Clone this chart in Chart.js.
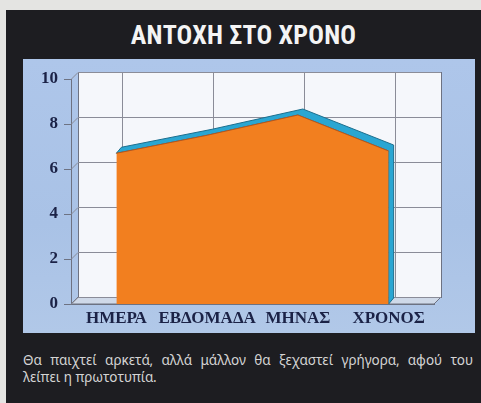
<!DOCTYPE html>
<html>
<head>
<meta charset="utf-8">
<script src="https://cdn.jsdelivr.net/npm/chart.js@4"></script>
<style>
  html, body { margin: 0; padding: 0; }
  body { width: 481px; height: 403px; background: #e4e4e2; position: relative; overflow: hidden; }
  #box { position: absolute; left: 6px; top: 10px; width: 475px; height: 393px; background: #1d1d21; }
  #title {
    position: absolute; left: 0; top: 20px; width: 487px; text-align: center;
    font-family: "Liberation Sans Narrow", "Roboto Condensed", "Arial Narrow", sans-serif;
    font-weight: bold; font-size: 26px; color: #f4f4f4; letter-spacing: 0.2px;
  }
  #panel {
    position: absolute; left: 23px; top: 59px; width: 452px; height: 274px;
    background: linear-gradient(180deg, #aec6ea 0%, #a9c2e6 60%, #b1c8e8 100%);
  }
  #panel canvas { position: absolute; left: 0; top: 0; }
  #caption {
    position: absolute; left: 23px; top: 352px; width: 450px;
    font-family: "Noto Sans", "DejaVu Sans", sans-serif; font-size: 13.5px;
    line-height: 17px; color: #d4d4d4;
  }
  #caption .l1 { text-align: justify; text-align-last: justify; }
</style>
</head>
<body>
<div id="box"></div>
<div id="title">ΑΝΤΟΧΗ ΣΤΟ ΧΡΟΝΟ</div>
<div id="panel"><canvas id="chart" width="452" height="274"></canvas></div>
<div id="caption">
  <div class="l1">Θα παιχτεί αρκετά, αλλά μάλλον θα ξεχαστεί γρήγορα, αφού του</div>
  <div>λείπει η πρωτοτυπία.</div>
</div>
<script>
// data
const categories = ['ΗΜΕΡΑ', 'ΕΒΔΟΜΑΔΑ', 'ΜΗΝΑΣ', 'ΧΡΟΝΟΣ']
const durability = [6.7, 7.5, 8.4, 6.8]
const yTicks = [0, 2, 4, 6, 8, 10]

const DEPTH = 7 // back wall offset
const SIDE = { dx: 5, dy: -6 } // thickness of the blue 3d edge
const lineCol = '#6d7282'
const textCol = '#1b2246'

// draws the back wall, floor and the blue side of the area
const wallPlugin = {
  id: 'wall',
  beforeDatasetsDraw(chart) {
    const ctx = chart.ctx
    const { left, right, top, bottom } = chart.chartArea
    const x = chart.scales.x
    const y = chart.scales.y
    ctx.save()
    // floor
    ctx.fillStyle = '#cfd9e8'
    ctx.strokeStyle = lineCol
    ctx.lineWidth = 1
    ctx.beginPath()
    ctx.moveTo(left, bottom)
    ctx.lineTo(right, bottom)
    ctx.lineTo(right + DEPTH, bottom - DEPTH)
    ctx.lineTo(left + DEPTH, bottom - DEPTH)
    ctx.closePath()
    ctx.fill()
    ctx.stroke()
    // wall
    ctx.fillStyle = '#f5f7fb'
    ctx.fillRect(left + DEPTH, top - DEPTH, right - left, bottom - top)
    ctx.strokeRect(left + DEPTH + 0.5, top - DEPTH + 0.5, right - left, bottom - top)
    ctx.strokeStyle = '#8a8c98'
    yTicks.forEach(function (v) {
      const py = Math.round(y.getPixelForValue(v)) + 0.5
      ctx.beginPath()
      ctx.moveTo(left, py)
      ctx.lineTo(left + DEPTH, py - DEPTH)
      ctx.lineTo(right + DEPTH, py - DEPTH)
      ctx.stroke()
    })
    categories.forEach(function (c, i) {
      const px = Math.round(x.getPixelForTick(i)) + 0.5 + DEPTH - 1
      ctx.beginPath()
      ctx.moveTo(px, top - DEPTH)
      ctx.lineTo(px, bottom - DEPTH)
      ctx.stroke()
    })
    // blue edge behind the orange area
    const pts = chart.getDatasetMeta(0).data
    const base = y.getPixelForValue(0)
    const last = pts[pts.length - 1]
    ctx.fillStyle = '#2aa6d2'
    ctx.strokeStyle = '#1d6f8e'
    ctx.beginPath()
    ctx.moveTo(pts[0].x, pts[0].y)
    pts.forEach(function (p) {
      ctx.lineTo(p.x + SIDE.dx, p.y + SIDE.dy)
    })
    ctx.lineTo(last.x + SIDE.dx, base + SIDE.dy)
    ctx.lineTo(last.x, base)
    for (let i = pts.length - 1; i >= 0; i--) {
      ctx.lineTo(pts[i].x, pts[i].y)
    }
    ctx.closePath()
    ctx.fill()
    ctx.stroke()
    ctx.restore()
  },
}

const chart = new Chart(document.getElementById('chart'), {
  type: 'line',
  data: {
    labels: categories,
    datasets: [
      {
        data: durability,
        fill: 'origin',
        backgroundColor: '#f27f1f',
        borderColor: '#b9561a',
        borderWidth: 1,
        pointRadius: 0,
        tension: 0,
      },
    ],
  },
  options: {
    responsive: false,
    animation: false,
    devicePixelRatio: 1,
    layout: { padding: { top: 20, right: 41, left: 0, bottom: 0 } },
    plugins: { legend: { display: false }, tooltip: { enabled: false } },
    scales: {
      x: {
        type: 'category',
        offset: true,
        grid: { display: false },
        border: { display: true, color: lineCol },
        ticks: {
          color: textCol,
          padding: -4,
          maxRotation: 0,
          autoSkip: false,
          font: { family: '"Liberation Serif", "DejaVu Serif", serif', size: 17, weight: 'bold' },
        },
        afterFit: function (s) { s.height = 29 },
      },
      y: {
        min: 0,
        max: 10,
        afterBuildTicks: function (s) { s.ticks = yTicks.map(function (v) { return { value: v } }) },
        grid: { drawOnChartArea: false, drawTicks: true, tickLength: 7, color: lineCol },
        border: { display: true, color: lineCol },
        ticks: {
          color: textCol,
          padding: 6,
          font: { family: '"Liberation Serif", "DejaVu Serif", serif', size: 17, weight: 'bold' },
        },
        afterFit: function (s) { s.width = 48 },
      },
    },
  },
  plugins: [wallPlugin],
})
</script>
</body>
</html>
